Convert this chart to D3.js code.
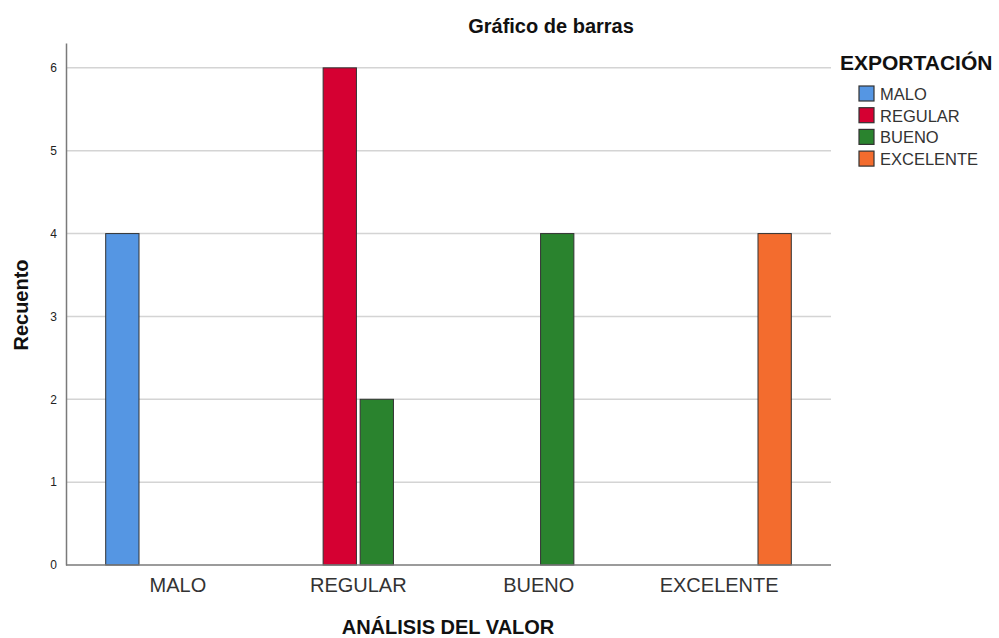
<!DOCTYPE html>
<html><head><meta charset="utf-8">
<script src="https://cdn.jsdelivr.net/npm/d3@7/dist/d3.min.js"></script>
<style>body{margin:0;background:#fff}svg{display:block;font-family:"Liberation Sans",Arial,sans-serif}</style>
</head><body><svg id="c" width="999" height="638"></svg>
<script>
const categories = ["MALO","REGULAR","BUENO","EXCELENTE"];
const series = ["MALO","REGULAR","BUENO","EXCELENTE"];
const colors = ["#5596E3","#D50032","#2A832E","#F36C2E"];
// counts[category][series]
const counts = [
  [4,0,0,0],
  [0,6,2,0],
  [0,0,4,0],
  [0,0,0,4]
];
const yTicks = [0,1,2,3,4,5,6];
const title = "Gráfico de barras";
const xTitle = "ANÁLISIS DEL VALOR";
const yTitle = "Recuento";
const legendTitle = "EXPORTACIÓN";

const svg = d3.select("#c");
const L=66, R=831, T=43, B=565;
const x0 = d3.scaleBand().domain(categories).range([L,R]).paddingInner(0.2).paddingOuter(0.22);
const x1 = d3.scaleBand().domain(series).range([0,x0.bandwidth()]).paddingInner(0.1);
const y = d3.scaleLinear().domain([0,6.3]).range([B,T]);

// grid
svg.append("g").selectAll("line").data(yTicks.filter(d=>d>0)).join("line")
  .attr("x1",L).attr("x2",R).attr("y1",d=>y(d)).attr("y2",d=>y(d))
  .attr("stroke","#d4d4d4").attr("stroke-width",1.5);

// y axis
const ya = svg.append("g").attr("transform",`translate(${L},0)`)
  .call(d3.axisLeft(y).tickValues(yTicks).tickFormat(d3.format("d")).tickSize(0).tickPadding(9));
ya.select(".domain").attr("stroke","#7a7a7a").attr("stroke-width",1.5);
ya.selectAll("text").attr("font-size",12).attr("fill","#222").attr("font-family","Liberation Sans, Arial, sans-serif");

// bars
const rows=[];
categories.forEach((c,i)=>series.forEach((s,j)=>{ if(counts[i][j]>0) rows.push({c,s,v:counts[i][j],j}); }));
svg.append("g").selectAll("rect").data(rows).join("rect")
  .attr("x",d=>x0(d.c)+x1(d.s)).attr("width",x1.bandwidth())
  .attr("y",d=>y(d.v)).attr("height",d=>y(0)-y(d.v))
  .attr("fill",d=>colors[d.j]).attr("stroke","#333").attr("stroke-width",1);

// x axis
const xa = svg.append("g").attr("transform",`translate(0,${B})`).call(d3.axisBottom(x0).tickSize(0).tickPadding(13));
xa.select(".domain").attr("stroke","#7a7a7a").attr("stroke-width",1.5).attr("d",`M${L},0H${R}`);
xa.selectAll("text").attr("font-size",20).attr("fill","#333").attr("font-family","Liberation Sans, Arial, sans-serif");

// titles
svg.append("text").attr("x",551).attr("y",33).attr("text-anchor","middle").attr("font-size",20).attr("font-weight","bold").attr("fill","#111").text(title);
svg.append("text").attr("x",448).attr("y",634).attr("text-anchor","middle").attr("font-size",20).attr("font-weight","bold").attr("fill","#111").text(xTitle);
svg.append("text").attr("transform","translate(28,305) rotate(-90)").attr("text-anchor","middle").attr("font-size",20).attr("font-weight","bold").attr("fill","#111").text(yTitle);

// legend
svg.append("text").attr("x",840).attr("y",70).attr("font-size",21).attr("font-weight","bold").attr("fill","#111").text(legendTitle);
const lg = svg.append("g").selectAll("g").data(series).join("g").attr("transform",(d,i)=>`translate(859,${86+i*21.7})`);
lg.append("rect").attr("width",15).attr("height",15).attr("fill",(d,i)=>colors[i]).attr("stroke","#333").attr("stroke-width",1.2);
lg.append("text").attr("x",21).attr("y",14).attr("font-size",16.5).attr("fill","#333").text(d=>d);
</script></body></html>
